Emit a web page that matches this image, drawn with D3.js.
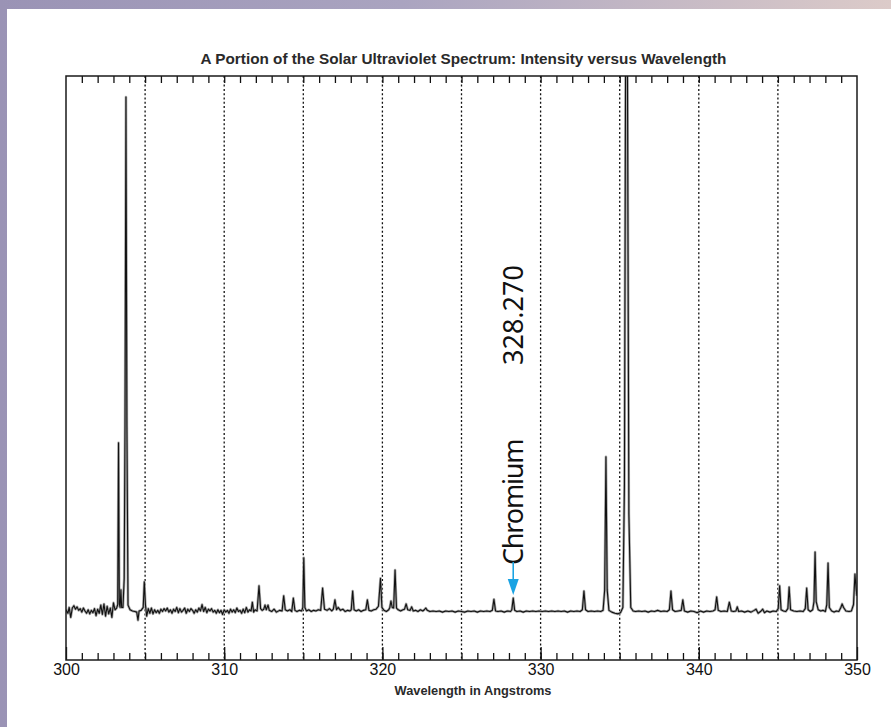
<!doctype html>
<html>
<head>
<meta charset="utf-8">
<title>Solar Ultraviolet Spectrum</title>
<script src="https://d3js.org/d3.v7.min.js"></script>
<style>
    body { margin: 0; }
    svg { display: block; }
</style>
</head>
<body>
<script>
// spectrum points [wavelength in Angstroms, intensity in arbitrary units]
const spectrum = [
    [300.0, 8.6], [300.12, 8.0], [300.2, 9.0], [300.3, 7.3], [300.4, 8.9], [300.5, 9.3], [300.6, 8.7], [300.7, 9.1],
    [300.8, 8.5], [300.9, 8.8], [301.0, 8.2], [301.1, 8.9], [301.2, 8.4], [301.3, 8.0], [301.4, 8.6], [301.5, 7.9],
    [301.6, 8.5], [301.7, 8.1], [301.8, 8.8], [301.9, 7.6], [302.0, 8.7], [302.1, 8.0], [302.2, 9.4], [302.3, 7.8],
    [302.4, 9.6], [302.5, 7.5], [302.6, 9.2], [302.7, 7.9], [302.8, 8.9], [302.9, 7.3], [303.0, 9.8], [303.1, 8.6],
    [303.2, 8.9], [303.27, 9.5], [303.32, 37.2], [303.37, 9.6], [303.42, 9.0], [303.47, 12.0], [303.52, 9.0],
    [303.6, 9.0], [303.68, 14.0], [303.73, 40.0], [303.79, 96.4], [303.85, 40.0], [303.92, 9.4],
    [304.05, 8.6], [304.2, 8.4], [304.35, 8.3], [304.47, 8.2], [304.55, 6.8], [304.62, 8.4], [304.75, 8.5],
    [304.88, 9.0], [304.95, 13.4], [305.02, 9.5], [305.1, 7.5], [305.2, 8.8], [305.3, 8.0], [305.4, 8.9],
    [305.5, 7.9], [305.6, 8.6], [305.7, 8.1], [305.8, 8.5], [305.9, 8.0], [306.0, 8.7], [306.1, 8.3], [306.2, 8.8],
    [306.3, 8.4], [306.4, 8.9], [306.5, 8.2], [306.6, 8.6], [306.7, 8.0], [306.8, 8.7], [306.9, 8.3], [307.0, 9.0],
    [307.1, 8.1], [307.2, 8.8], [307.3, 8.2], [307.4, 8.5], [307.5, 8.9], [307.6, 8.0], [307.7, 8.7], [307.8, 8.3],
    [307.9, 8.8], [308.0, 8.5], [308.1, 8.0], [308.2, 8.6], [308.3, 8.2], [308.4, 8.9], [308.5, 8.4], [308.6, 9.5],
    [308.7, 8.3], [308.8, 9.0], [308.9, 8.1], [309.0, 8.7], [309.1, 8.4], [309.2, 8.8], [309.3, 8.2], [309.4, 8.5],
    [309.5, 8.0], [309.6, 8.6], [309.7, 8.1], [309.8, 8.5], [309.9, 7.8], [310.0, 8.6], [310.1, 8.2], [310.2, 8.5],
    [310.3, 8.0], [310.4, 8.7], [310.5, 8.2], [310.6, 8.6], [310.7, 8.1], [310.8, 8.9], [310.9, 8.3], [311.0, 8.5],
    [311.1, 8.0], [311.2, 8.7], [311.3, 8.1], [311.4, 9.0], [311.5, 8.2], [311.6, 8.6], [311.7, 8.4], [311.78, 9.9],
    [311.86, 8.2], [311.95, 8.6], [312.08, 8.4], [312.2, 12.7], [312.3, 8.8], [312.4, 8.5], [312.5, 8.7],
    [312.58, 9.4], [312.66, 8.6], [312.77, 9.4], [312.85, 8.5], [313.0, 8.3], [313.15, 8.7], [313.3, 8.2],
    [313.5, 8.5], [313.66, 8.4], [313.76, 11.0], [313.86, 8.6], [314.0, 8.4], [314.15, 8.6], [314.27, 8.3],
    [314.37, 10.6], [314.47, 8.5], [314.6, 8.3], [314.75, 8.5], [314.9, 8.4], [314.97, 9.0], [315.03, 17.5],
    [315.1, 9.0], [315.2, 8.4], [315.35, 8.6], [315.5, 8.3], [315.65, 8.5], [315.8, 8.4], [315.95, 8.6],
    [316.1, 8.5], [316.22, 12.3], [316.34, 8.7], [316.5, 8.5], [316.65, 8.8], [316.8, 8.4], [316.9, 8.7],
    [317.0, 10.3], [317.1, 8.6], [317.2, 9.0], [317.35, 8.5], [317.5, 8.7], [317.65, 8.3], [317.8, 8.5],
    [317.95, 8.4], [318.03, 8.6], [318.12, 11.8], [318.21, 8.6], [318.35, 8.4], [318.5, 8.6], [318.65, 8.3],
    [318.8, 8.5], [318.95, 8.6], [319.05, 10.3], [319.15, 8.5], [319.3, 8.4], [319.45, 8.6], [319.6, 8.7],
    [319.75, 9.2], [319.88, 14.0], [319.97, 9.0], [320.1, 8.5], [320.25, 8.3], [320.4, 8.6], [320.47, 9.0],
    [320.54, 10.1], [320.62, 9.0], [320.71, 8.9], [320.8, 15.4], [320.89, 8.9], [321.0, 8.6], [321.15, 8.4],
    [321.3, 8.6], [321.4, 8.7], [321.5, 9.6], [321.6, 8.6], [321.75, 8.5], [321.85, 9.1], [321.95, 8.4],
    [322.1, 8.5], [322.25, 8.3], [322.4, 8.6], [322.55, 8.4], [322.65, 8.6], [322.74, 8.9], [322.84, 8.5],
    [323.0, 8.3], [323.2, 8.4], [323.4, 8.3], [323.6, 8.4], [323.8, 8.2], [324.0, 8.4], [324.2, 8.3], [324.4, 8.4],
    [324.6, 8.2], [324.8, 8.4], [325.0, 8.3], [325.2, 8.2], [325.4, 8.4], [325.6, 8.3], [325.8, 8.4], [326.0, 8.2],
    [326.2, 8.4], [326.4, 8.3], [326.6, 8.4], [326.8, 8.3], [326.95, 8.5], [327.05, 10.4], [327.15, 8.4],
    [327.3, 8.3], [327.5, 8.4], [327.7, 8.2], [327.9, 8.4], [328.1, 8.3], [328.18, 8.6], [328.27, 10.6],
    [328.36, 8.5], [328.5, 8.3], [328.7, 8.4], [328.9, 8.2], [329.1, 8.4], [329.3, 8.3], [329.5, 8.4], [329.7, 8.3],
    [329.9, 8.4], [330.1, 8.3], [330.3, 8.4], [330.5, 8.3], [330.7, 8.4], [330.9, 8.3], [331.1, 8.4], [331.3, 8.3],
    [331.5, 8.4], [331.7, 8.2], [331.9, 8.4], [332.1, 8.3], [332.3, 8.4], [332.5, 8.3], [332.64, 8.6],
    [332.74, 11.8], [332.84, 8.6], [333.0, 8.3], [333.2, 8.4], [333.4, 8.3], [333.6, 8.4], [333.8, 8.3],
    [333.95, 8.5], [334.05, 12.0], [334.13, 34.8], [334.21, 12.0], [334.32, 8.5], [334.5, 8.2], [334.7, 8.0],
    [334.9, 7.9], [335.05, 8.1], [335.2, 9.0], [335.3, 30.0], [335.38, 110.0], [335.48, 110.0], [335.58, 25.0],
    [335.7, 9.0], [335.85, 8.4], [336.0, 8.3], [336.2, 8.4], [336.4, 8.3], [336.6, 8.4], [336.8, 8.2], [337.0, 8.4],
    [337.2, 8.3], [337.4, 8.5], [337.6, 8.3], [337.8, 8.4], [338.0, 8.3], [338.14, 8.6], [338.24, 11.8],
    [338.34, 8.6], [338.5, 8.3], [338.7, 8.4], [338.89, 8.5], [338.99, 10.3], [339.09, 8.4], [339.3, 8.2],
    [339.5, 8.4], [339.7, 8.3], [339.9, 8.1], [340.1, 8.4], [340.3, 8.2], [340.5, 8.4], [340.7, 8.3], [340.9, 8.4],
    [341.03, 8.6], [341.13, 10.8], [341.23, 8.5], [341.4, 8.3], [341.6, 8.4], [341.8, 8.3], [341.93, 9.9],
    [342.05, 8.4], [342.2, 8.3], [342.35, 8.4], [342.43, 9.1], [342.52, 8.3], [342.7, 8.4], [342.9, 8.2],
    [343.1, 8.4], [343.3, 8.2], [343.5, 8.5], [343.62, 8.7], [343.75, 8.0], [343.9, 8.3], [344.04, 8.7],
    [344.15, 8.1], [344.3, 8.4], [344.5, 8.2], [344.7, 8.4], [344.9, 8.3], [345.02, 8.8], [345.11, 12.7],
    [345.2, 8.6], [345.35, 8.4], [345.5, 8.3], [345.63, 8.8], [345.71, 12.5], [345.8, 8.6], [346.0, 8.4],
    [346.2, 8.3], [346.4, 8.4], [346.6, 8.3], [346.73, 8.8], [346.82, 12.3], [346.91, 8.6], [347.05, 8.3],
    [347.2, 8.6], [347.28, 10.0], [347.35, 18.5], [347.42, 10.0], [347.55, 8.6], [347.7, 8.4], [347.85, 8.5],
    [348.0, 8.3], [348.09, 9.5], [348.17, 16.6], [348.25, 9.0], [348.4, 8.4], [348.55, 8.2], [348.7, 8.4],
    [348.85, 8.3], [348.98, 9.0], [349.06, 9.6], [349.15, 9.0], [349.3, 8.4], [349.5, 8.3], [349.65, 8.4],
    [349.78, 9.5], [349.87, 14.7], [349.95, 12.0], [350.0, 11.0]
];

const xDomain = [300, 350];
const yDomain = [0, 100];
const labelTicks = [300, 310, 320, 330, 340, 350];
const gridLines = [305, 310, 315, 320, 325, 330, 335, 340, 345];
const minorTicks = d3.range(301, 350);

const lineLabel = "328.270";
const lineElement = "Chromium";
const lineWave = 328.27;

const chartTitle = "A Portion of the Solar Ultraviolet Spectrum: Intensity versus Wavelength";
const xTitle = "Wavelength in Angstroms";

const W = 891, H = 727;
const pLeft = 66, pRight = 857, pTop = 76, pBottom = 660;
const sans = "'Liberation Sans', Arial, sans-serif";

const svg = d3.select("body").append("svg")
    .attr("width", W)
    .attr("height", H);

// backdrop and white sheet
const defs = svg.append("defs");
const grad = defs.append("linearGradient").attr("id", "bg")
    .attr("x1", "0").attr("y1", "0").attr("x2", "1").attr("y2", "0");
grad.append("stop").attr("offset", "0").attr("stop-color", "#9a93b5");
grad.append("stop").attr("offset", "0.45").attr("stop-color", "#aaa4c0");
grad.append("stop").attr("offset", "1").attr("stop-color", "#dccbc9");
svg.append("rect").attr("width", W).attr("height", H).attr("fill", "url(#bg)");
svg.append("rect").attr("x", 7).attr("y", 9).attr("width", W - 7).attr("height", H - 9).attr("fill", "#fff");

defs.append("clipPath").attr("id", "plotclip")
    .append("rect").attr("x", pLeft).attr("y", pTop).attr("width", pRight - pLeft).attr("height", pBottom - pTop);

const x = d3.scaleLinear().domain(xDomain).range([pLeft, pRight]);
const y = d3.scaleLinear().domain(yDomain).range([pBottom, pTop]);

// dotted grid lines
svg.append("g").selectAll("line")
    .data(gridLines)
    .join("line")
    .attr("x1", d => x(d)).attr("x2", d => x(d))
    .attr("y1", pTop).attr("y2", pBottom)
    .attr("stroke", "#111")
    .attr("stroke-width", 1.3)
    .attr("stroke-dasharray", "2,2.3");

// minor ticks top and bottom
svg.append("g")
    .attr("transform", "translate(0," + pBottom + ")")
    .call(d3.axisBottom(x).tickValues(minorTicks).tickSize(-7).tickFormat(""))
    .call(g => g.select(".domain").remove())
    .selectAll("line").attr("stroke", "#111").attr("stroke-width", 1.3);
svg.append("g")
    .attr("transform", "translate(0," + pTop + ")")
    .call(d3.axisTop(x).tickValues(minorTicks).tickSize(-7).tickFormat(""))
    .call(g => g.select(".domain").remove())
    .selectAll("line").attr("stroke", "#111").attr("stroke-width", 1.3);

// labelled ticks
const xAxis = svg.append("g")
    .attr("transform", "translate(0," + pBottom + ")")
    .call(d3.axisBottom(x).tickValues(labelTicks).tickSize(-13).tickPadding(4).tickFormat(d3.format("d")));
xAxis.select(".domain").remove();
xAxis.selectAll("line").attr("stroke", "#111").attr("stroke-width", 1.3);
xAxis.selectAll("text")
    .attr("font-family", sans)
    .attr("font-size", 16)
    .attr("fill", "#111");

// spectrum
const line = d3.line().x(d => x(d[0])).y(d => y(d[1]));
const plot = svg.append("g").attr("clip-path", "url(#plotclip)");
plot.append("path")
    .datum(spectrum)
    .attr("d", line)
    .attr("fill", "none")
    .attr("stroke", "#a8a8a8")
    .attr("stroke-width", 2.6)
    .attr("stroke-linejoin", "round");
plot.append("path")
    .datum(spectrum)
    .attr("d", line)
    .attr("fill", "none")
    .attr("stroke", "#111")
    .attr("stroke-width", 1.1)
    .attr("stroke-linejoin", "round");

// frame
svg.append("rect")
    .attr("x", pLeft).attr("y", pTop)
    .attr("width", pRight - pLeft).attr("height", pBottom - pTop)
    .attr("fill", "none")
    .attr("stroke", "#1a1a1a")
    .attr("stroke-width", 1.5);

// titles
svg.append("text")
    .attr("x", (pLeft + pRight) / 2 + 2)
    .attr("y", 64)
    .attr("text-anchor", "middle")
    .attr("font-family", sans)
    .attr("font-size", 15.3)
    .attr("font-weight", "bold")
    .attr("fill", "#2a2a2a")
    .text(chartTitle);

svg.append("text")
    .attr("x", 473)
    .attr("y", 695)
    .attr("text-anchor", "middle")
    .attr("font-family", sans)
    .attr("font-size", 12.8)
    .attr("font-weight", "bold")
    .attr("fill", "#2a2a2a")
    .text(xTitle);

// chromium annotation
const ax = x(lineWave);
svg.append("text")
    .attr("transform", "translate(523,365) rotate(-90)")
    .attr("font-family", "'Noto Sans', sans-serif")
    .attr("font-size", 27)
    .attr("fill", "#111")
    .text(lineLabel);
svg.append("text")
    .attr("transform", "translate(523,565) rotate(-90)")
    .attr("font-family", "'Noto Sans', sans-serif")
    .attr("font-size", 27)
    .attr("letter-spacing", -1.2)
    .attr("fill", "#111")
    .text(lineElement);

svg.append("line")
    .attr("x1", ax).attr("x2", ax)
    .attr("y1", 562).attr("y2", 582)
    .attr("stroke", "#1aa3e3")
    .attr("stroke-width", 1.6);
svg.append("path")
    .attr("d", "M" + (ax - 5.5) + ",579L" + (ax + 5.5) + ",579L" + ax + ",595Z")
    .attr("fill", "#1aa3e3");
</script>
</body>
</html>
